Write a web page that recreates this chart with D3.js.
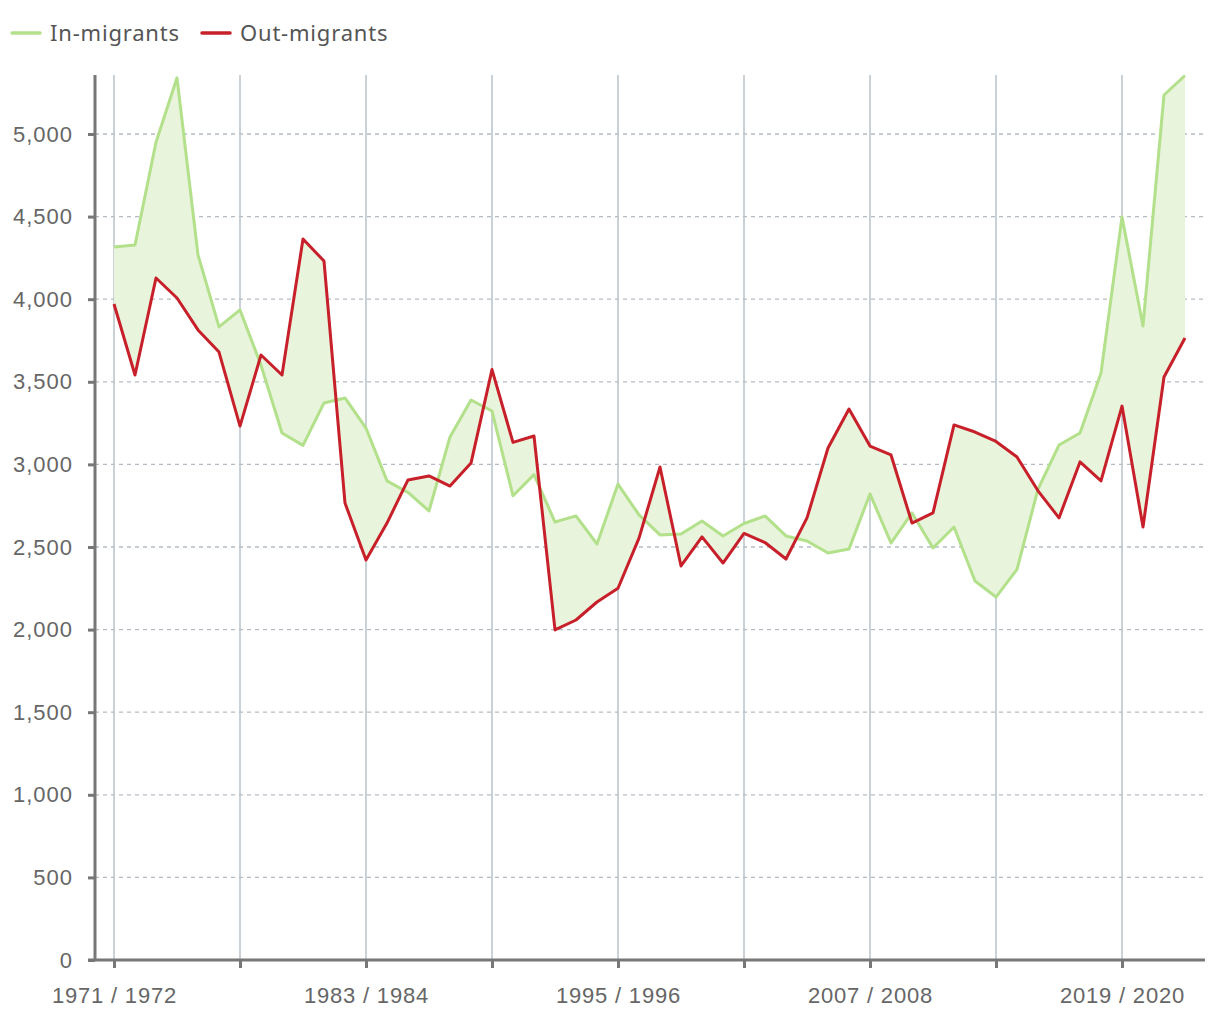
<!DOCTYPE html>
<html lang="en">
<head>
<meta charset="UTF-8">
<title>In- and out-migrants</title>
<script src="https://d3js.org/d3.v7.min.js"></script>
<style>
  body { margin: 0; background: #fff; }
  svg { display: block; font-family: "Noto Sans", sans-serif; }
</style>
</head>
<body>
<svg id="chart" width="1220" height="1020"></svg>
<script>
// years 1971/1972 ... 2022/2023
const startYears = d3.range(1971, 2023);
const categories = startYears.map(y => `${y} / ${y + 1}`);

const inMigrants = [
  4316, 4328, 4950, 5340, 4268, 3832, 3935, 3600, 3190, 3115,
  3372, 3402, 3220, 2900, 2830, 2718, 3166, 3390, 3323, 2810,
  2938, 2651, 2688, 2518, 2881, 2694, 2573, 2579, 2657, 2567,
  2642, 2688, 2567, 2536, 2464, 2488, 2821, 2524, 2706, 2494,
  2621, 2294, 2197, 2364, 2850, 3117, 3190, 3553, 4498, 3838,
  5236, 5354
];
const outMigrants = [
  3971, 3541, 4128, 4007, 3814, 3680, 3232, 3662, 3541, 4364,
  4231, 2766, 2421, 2645, 2906, 2930, 2869, 3008, 3574, 3133,
  3172, 1998, 2058, 2167, 2250, 2554, 2984, 2385, 2561, 2403,
  2582, 2527, 2427, 2676, 3099, 3335, 3111, 3057, 2645, 2706,
  3239, 3196, 3139, 3045, 2840, 2676, 3015, 2900, 3353, 2621,
  3529, 3765
];
const yTicks = d3.range(0, 5001, 500);

const svg = d3.select("#chart");
const m = { left: 95, right: 1205, top: 75, bottom: 960 };

const x = d3.scalePoint().domain(categories).range([114, 1185]);
const y = d3.scaleLinear().domain([0, 5357]).range([m.bottom, m.top]);

const gridCats = categories.filter((c, i) => i % 6 === 0);
const labelCats = categories.filter((c, i) => i % 12 === 0);

// horizontal dashed grid
svg.append("g").selectAll("line")
  .data(yTicks.filter(d => d > 0))
  .join("line")
  .attr("x1", m.left).attr("x2", m.right)
  .attr("y1", d => y(d)).attr("y2", d => y(d))
  .attr("stroke", "#b3bcc4").attr("stroke-width", 1.3)
  .attr("stroke-dasharray", "4,4");

// vertical grid
svg.append("g").selectAll("line")
  .data(gridCats)
  .join("line")
  .attr("x1", d => x(d)).attr("x2", d => x(d))
  .attr("y1", m.top).attr("y2", m.bottom)
  .attr("stroke", "#b8c2ca").attr("stroke-width", 1.5);

// area between the two series
const area = d3.area()
  .x((d, i) => x(categories[i]))
  .y0((d, i) => y(outMigrants[i]))
  .y1(d => y(d));
svg.append("path")
  .datum(inMigrants)
  .attr("d", area)
  .attr("fill", "#e8f4dc");

const line = d3.line()
  .x((d, i) => x(categories[i]))
  .y(d => y(d));

svg.append("path").datum(inMigrants)
  .attr("d", line).attr("fill", "none")
  .attr("stroke", "#b3e08a").attr("stroke-width", 3)
  .attr("stroke-linejoin", "round");

svg.append("path").datum(outMigrants)
  .attr("d", line).attr("fill", "none")
  .attr("stroke", "#c8202a").attr("stroke-width", 3)
  .attr("stroke-linejoin", "round");

// y axis
const yAxis = svg.append("g")
  .attr("transform", `translate(${m.left},0)`)
  .call(d3.axisLeft(y).tickValues(yTicks).tickSize(7).tickPadding(15).tickFormat(d3.format(",")));
yAxis.select(".domain").attr("d", `M0,${m.top}V${m.bottom}`).attr("stroke", "#777").attr("stroke-width", 3);
yAxis.selectAll(".tick line").attr("stroke", "#777").attr("stroke-width", 3);
yAxis.selectAll(".tick text").attr("fill", "#666")
  .style("font-size", "22px").style("letter-spacing", "1px");

// x axis
const xAxis = svg.append("g")
  .attr("transform", `translate(0,${m.bottom})`)
  .call(d3.axisBottom(x).tickValues(gridCats).tickSize(8).tickPadding(19)
    .tickFormat(d => labelCats.includes(d) ? d : ""));
xAxis.select(".domain").attr("d", `M${m.left - 7},0H${m.right}`).attr("stroke", "#777").attr("stroke-width", 3);
xAxis.selectAll(".tick line").attr("stroke", "#777").attr("stroke-width", 3);
xAxis.selectAll(".tick text").attr("fill", "#666")
  .style("font-size", "22px").style("letter-spacing", "0.8px");

// legend
const legendItems = [
  { name: "In-migrants", color: "#b3e08a", x: 12 },
  { name: "Out-migrants", color: "#c8202a", x: 202 }
];
const lg = svg.append("g").selectAll("g").data(legendItems).join("g")
  .attr("transform", d => `translate(${d.x},33)`);
lg.append("line").attr("x1", 0).attr("x2", 28)
  .attr("stroke", d => d.color).attr("stroke-width", 3.5).attr("stroke-linecap", "round");
lg.append("text").attr("x", 38).attr("dy", "0.35em")
  .attr("fill", "#555").style("font-size", "22px").style("letter-spacing", "0.8px")
  .text(d => d.name);
</script>
</body>
</html>
